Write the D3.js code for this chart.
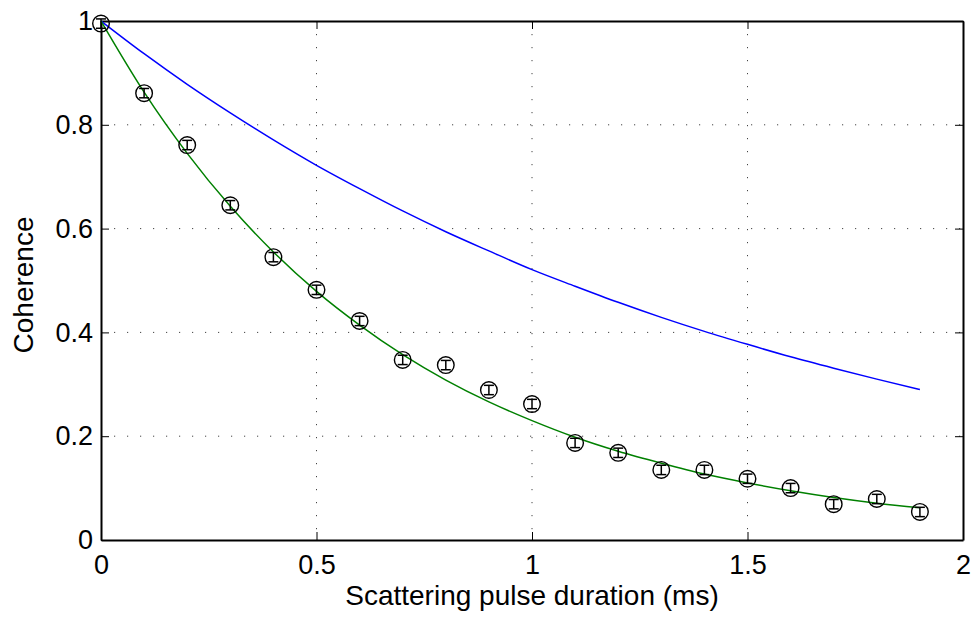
<!DOCTYPE html>
<meta charset="utf-8">
<script src="https://d3js.org/d3.v7.min.js"></script>
<style>
  body { margin: 0; background: #fff; }
  text { font-family: "Liberation Sans", Arial, sans-serif; }
</style>
<div id="chart_area"></div>
<script>

    // measured points (circles with error bars)
    let pulseTimes = [0, 0.1, 0.2, 0.3, 0.4, 0.5, 0.6, 0.7, 0.8, 0.9, 1.0, 1.1, 1.2, 1.3, 1.4, 1.5, 1.6, 1.7, 1.8, 1.9];
    let measured = [0.995, 0.861, 0.761, 0.645, 0.545, 0.482, 0.422, 0.347, 0.337, 0.289, 0.262, 0.187, 0.168, 0.135, 0.135, 0.118, 0.100, 0.069, 0.079, 0.054];
    let measuredErr = [0.009, 0.009, 0.009, 0.009, 0.009, 0.009, 0.009, 0.009, 0.009, 0.009, 0.009, 0.009, 0.009, 0.009, 0.009, 0.009, 0.009, 0.009, 0.009, 0.009];

    // fitted curve (green) and model curve (blue), read at the same times
    let greenCurve = [1.0, 0.863, 0.745, 0.643, 0.555, 0.479, 0.414, 0.357, 0.308, 0.266, 0.230, 0.198, 0.171, 0.148, 0.127, 0.110, 0.095, 0.082, 0.071, 0.062];
    let blueCurve = [1.0, 0.937, 0.878, 0.823, 0.771, 0.722, 0.677, 0.634, 0.594, 0.557, 0.521, 0.489, 0.458, 0.429, 0.402, 0.377, 0.353, 0.331, 0.310, 0.290];

    let xTicks = [0, 0.5, 1, 1.5, 2];
    let yTicks = [0, 0.2, 0.4, 0.6, 0.8, 1];

    let width = 976, height = 619;
    let plotLeft = 101, plotRight = 963, plotTop = 21, plotBottom = 540;

    let svg = d3.select("#chart_area")
                .append("svg")
                    .attr("width", width)
                    .attr("height", height);

    let x = d3.scaleLinear().domain([0, 2]).range([plotLeft, plotRight]);
    let y = d3.scaleLinear().domain([0, 1]).range([plotBottom, plotTop]);

    // dotted grid
    svg.append("g")
        .selectAll("line")
        .data(xTicks.slice(1, -1))
        .enter().append("line")
            .attr("x1", d => x(d)).attr("x2", d => x(d))
            .attr("y1", plotTop).attr("y2", plotBottom)
            .attr("stroke", "#444")
            .attr("stroke-width", 1)
            .attr("stroke-dasharray", "1.2,11.8");

    svg.append("g")
        .selectAll("line")
        .data(yTicks.slice(1, -1))
        .enter().append("line")
            .attr("x1", plotLeft).attr("x2", plotRight)
            .attr("y1", d => y(d)).attr("y2", d => y(d))
            .attr("stroke", "#444")
            .attr("stroke-width", 1)
            .attr("stroke-dasharray", "1.2,11.8");

    // axes (ticks inward, box on all sides)
    let fmt = d => d3.format("")(d);
    svg.append("g")
        .attr("transform", "translate(0," + plotBottom + ")")
        .call(d3.axisBottom(x).tickValues(xTicks).tickSize(-8).tickSizeOuter(0).tickPadding(15).tickFormat(fmt));
    svg.append("g")
        .attr("transform", "translate(0," + plotTop + ")")
        .call(d3.axisTop(x).tickValues(xTicks).tickSize(-8).tickSizeOuter(0).tickFormat(""));
    svg.append("g")
        .attr("transform", "translate(" + plotLeft + ",0)")
        .call(d3.axisLeft(y).tickValues(yTicks).tickSize(-8).tickSizeOuter(0).tickPadding(8).tickFormat(fmt));
    svg.append("g")
        .attr("transform", "translate(" + plotRight + ",0)")
        .call(d3.axisRight(y).tickValues(yTicks).tickSize(-8).tickSizeOuter(0).tickFormat(""));

    svg.selectAll(".domain").attr("stroke", "#000").attr("stroke-width", 2);
    svg.selectAll(".tick line").attr("stroke", "#000").attr("stroke-width", 1);
    svg.selectAll(".tick text")
        .style("font-size", "27px")
        .style("font-family", "'Liberation Sans', Arial, sans-serif")
        .attr("fill", "#000");

    // curves
    let line = d3.line()
        .x((d, i) => x(pulseTimes[i]))
        .y(d => y(d))
        .curve(d3.curveMonotoneX);

    svg.append("path")
        .attr("d", line(blueCurve))
        .attr("fill", "none")
        .attr("stroke", "#0000ff")
        .attr("stroke-width", 1.5);

    svg.append("path")
        .attr("d", line(greenCurve))
        .attr("fill", "none")
        .attr("stroke", "#008000")
        .attr("stroke-width", 1.5);

    // markers with error bars
    let pts = svg.append("g")
        .selectAll("g")
        .data(measured)
        .enter().append("g");

    pts.append("line")
        .attr("x1", (d, i) => x(pulseTimes[i])).attr("x2", (d, i) => x(pulseTimes[i]))
        .attr("y1", (d, i) => y(d - measuredErr[i])).attr("y2", (d, i) => y(d + measuredErr[i]))
        .attr("stroke", "#000").attr("stroke-width", 1.5);
    pts.append("line")
        .attr("x1", (d, i) => x(pulseTimes[i]) - 5).attr("x2", (d, i) => x(pulseTimes[i]) + 5)
        .attr("y1", (d, i) => y(d - measuredErr[i])).attr("y2", (d, i) => y(d - measuredErr[i]))
        .attr("stroke", "#000").attr("stroke-width", 1.5);
    pts.append("line")
        .attr("x1", (d, i) => x(pulseTimes[i]) - 5).attr("x2", (d, i) => x(pulseTimes[i]) + 5)
        .attr("y1", (d, i) => y(d + measuredErr[i])).attr("y2", (d, i) => y(d + measuredErr[i]))
        .attr("stroke", "#000").attr("stroke-width", 1.5);
    pts.append("circle")
        .attr("cx", (d, i) => x(pulseTimes[i]))
        .attr("cy", d => y(d))
        .attr("r", 8.3)
        .attr("fill", "none")
        .attr("stroke", "#000")
        .attr("stroke-width", 1.4);

    // axis labels
    svg.append("text")
        .attr("x", (plotLeft + plotRight) / 2)
        .attr("y", 605)
        .attr("text-anchor", "middle")
        .style("font-size", "28px")
        .text("Scattering pulse duration (ms)");

    svg.append("text")
        .attr("transform", "translate(33,285) rotate(-90)")
        .attr("text-anchor", "middle")
        .style("font-size", "28px")
        .text("Coherence");

</script>
